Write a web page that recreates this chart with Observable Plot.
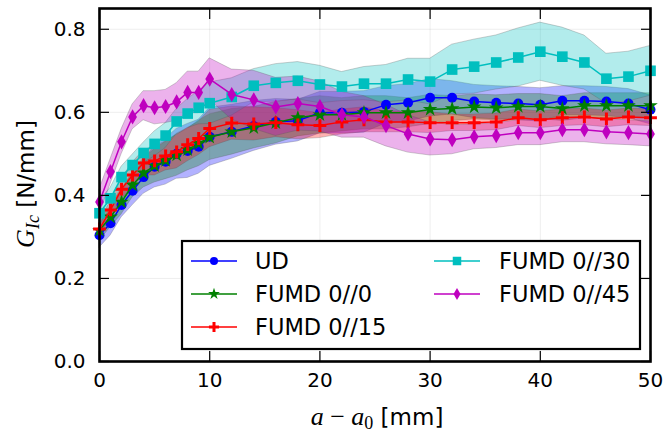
<!DOCTYPE html>
<html><head><meta charset="utf-8">
<script src="https://cdn.jsdelivr.net/npm/d3@7"></script>
<script src="https://cdn.jsdelivr.net/npm/@observablehq/plot@0.6"></script>
<style>
body{margin:0;background:#fff;}
#wrap{position:relative;width:666px;height:434px;}
</style></head>
<body><div id="wrap"></div>
<script>
const xs = [0,1,2,3,4,5,6,7,8,9,10,12,14,16,18,20,22,24,26,28,30,32,34,36,38,40,42,44,46,48,50];
const seriesNames = ["UD","FUMD 0//0","FUMD 0//15","FUMD 0//30","FUMD 0//45"];

const udMean  = [0.304,0.333,0.377,0.411,0.444,0.469,0.481,0.500,0.507,0.517,0.541,0.553,0.567,0.577,0.580,0.599,0.599,0.601,0.618,0.623,0.635,0.635,0.626,0.623,0.621,0.618,0.628,0.628,0.626,0.621,0.606];
const udSpread = [0.03,0.03,0.03,0.035,0.04,0.05,0.055,0.06,0.065,0.065,0.07,0.065,0.06,0.055,0.05,0.05,0.05,0.05,0.045,0.045,0.045,0.04,0.04,0.04,0.04,0.04,0.035,0.035,0.035,0.035,0.035];

const f0Mean  = [0.316,0.348,0.384,0.425,0.454,0.471,0.484,0.497,0.510,0.525,0.540,0.553,0.563,0.575,0.587,0.594,0.594,0.599,0.599,0.599,0.607,0.609,0.613,0.611,0.614,0.614,0.609,0.616,0.616,0.616,0.616];
const f0Spread = [0.025,0.025,0.03,0.03,0.035,0.04,0.045,0.05,0.05,0.055,0.055,0.055,0.05,0.05,0.045,0.045,0.04,0.04,0.04,0.035,0.035,0.03,0.03,0.03,0.03,0.03,0.03,0.03,0.03,0.03,0.03];

const f15Mean = [0.319,0.365,0.415,0.449,0.478,0.483,0.495,0.505,0.522,0.537,0.561,0.574,0.572,0.575,0.570,0.568,0.577,0.582,0.577,0.577,0.575,0.575,0.575,0.577,0.587,0.582,0.587,0.589,0.584,0.589,0.587];
const f15Spread = [0.02,0.02,0.025,0.03,0.03,0.035,0.035,0.04,0.04,0.04,0.045,0.04,0.04,0.035,0.035,0.03,0.03,0.03,0.025,0.025,0.025,0.02,0.02,0.02,0.02,0.02,0.02,0.02,0.02,0.02,0.02];

const f30Mean = [0.357,0.393,0.444,0.473,0.502,0.524,0.544,0.578,0.597,0.611,0.622,0.637,0.664,0.671,0.676,0.667,0.662,0.669,0.669,0.679,0.674,0.703,0.710,0.720,0.732,0.746,0.734,0.720,0.681,0.686,0.700];
const f30Spread = [0.03,0.025,0.025,0.025,0.025,0.03,0.03,0.03,0.035,0.04,0.05,0.045,0.04,0.045,0.045,0.045,0.035,0.04,0.045,0.05,0.055,0.06,0.065,0.065,0.07,0.07,0.07,0.065,0.06,0.06,0.06];

const f45Mean = [0.384,0.457,0.529,0.589,0.616,0.611,0.614,0.625,0.648,0.648,0.680,0.643,0.630,0.613,0.621,0.614,0.594,0.589,0.568,0.548,0.536,0.534,0.541,0.544,0.551,0.551,0.558,0.558,0.553,0.551,0.548];
const f45Spread = [0.03,0.03,0.03,0.03,0.035,0.04,0.04,0.045,0.05,0.05,0.05,0.06,0.07,0.07,0.065,0.06,0.055,0.05,0.05,0.045,0.04,0.035,0.03,0.03,0.03,0.03,0.03,0.03,0.03,0.03,0.03];

const xTicks = [0,10,20,30,40,50];
const yTicks = [0.0,0.2,0.4,0.6,0.8];

const means = [udMean,f0Mean,f15Mean,f30Mean,f45Mean];
const spreads = [udSpread,f0Spread,f15Spread,f30Spread,f45Spread];
const colors = ["#0000ff","#008000","#ff0000","#00bfbf","#bf00bf"];
const symbols = ["circle","star","plus","square","diamond"];
const d3symbols = [d3.symbolCircle,d3.symbolStar,d3.symbolPlus,d3.symbolSquare,d3.symbolDiamond];
const radii = [5,4.6,4.2,6,4.6];

const rows = seriesNames.map((name,i)=>xs.map((x,j)=>({series:name,x,y:means[i][j],lo:means[i][j]-spreads[i][j],hi:means[i][j]+spreads[i][j]})));

const marks = [
  Plot.gridX(xTicks.slice(1,-1),{stroke:"#000",strokeOpacity:0.07,strokeWidth:1}),
  Plot.gridY(yTicks.slice(1),{stroke:"#000",strokeOpacity:0.07,strokeWidth:1}),
];
rows.forEach((r,i)=>marks.push(Plot.areaY(r,{x:"x",y1:"lo",y2:"hi",fill:colors[i],fillOpacity:0.3,stroke:"#555",strokeOpacity:0.35,strokeWidth:0.8})));
rows.forEach((r,i)=>{
  marks.push(Plot.line(r,{x:"x",y:"y",stroke:colors[i],strokeWidth:1.5}));
  const stroked = symbols[i]==="plus";
  marks.push(Plot.dot(r,{x:"x",y:"y",symbol:()=>symbols[i],r:radii[i],
    fill: stroked?"none":colors[i], stroke: stroked?colors[i]:"none", strokeWidth: stroked?3:0}));
});
const noText = () => "";
marks.push(
  Plot.axisX(xTicks,{anchor:"bottom",tickSize:-10,tickPadding:21,strokeWidth:1.2,label:null}),
  Plot.axisX(xTicks,{anchor:"top",tickSize:-10,tickFormat:noText,strokeWidth:1.2,label:null}),
  Plot.axisY(yTicks,{anchor:"left",tickSize:-10,tickPadding:24,tickFormat:d3.format(".1f"),strokeWidth:1.2,label:null}),
  Plot.axisY(yTicks,{anchor:"right",tickSize:-10,tickFormat:noText,strokeWidth:1.2,label:null}),
  Plot.frame({stroke:"#000",strokeWidth:2.6})
);

const chart = Plot.plot({
  width:666,height:434,
  marginLeft:99,marginRight:16,marginTop:8,marginBottom:73,
  x:{domain:[0,50]},
  y:{domain:[0,0.85]},
  symbol:{type:"identity"},
  style:{fontFamily:"DejaVu Sans",fontSize:"20px",color:"#000",background:"#fff",overflow:"visible"},
  marks
});
document.getElementById("wrap").appendChild(chart);

const svg = d3.select(chart);
svg.selectAll("text").filter(function(){return this.textContent==="";}).remove();
const serif = "Liberation Serif, DejaVu Serif, serif";
// x label
const xl = svg.append("text").attr("x",377).attr("y",425).attr("text-anchor","middle").attr("fill","#000");
xl.append("tspan").attr("font-family",serif).attr("font-style","italic").attr("font-size",26).text("a");
xl.append("tspan").attr("font-family",serif).attr("font-size",26).text(" \u2212 ");
xl.append("tspan").attr("font-family",serif).attr("font-style","italic").attr("font-size",26).text("a");
xl.append("tspan").attr("font-family",serif).attr("font-size",18).attr("dy",4).text("0");
xl.append("tspan").attr("font-family","DejaVu Sans").attr("font-size",23).attr("dy",-4).text(" [mm]");
// y label
const yl = svg.append("text").attr("transform","translate(34,184) rotate(-90)").attr("text-anchor","middle").attr("fill","#000");
yl.append("tspan").attr("font-family",serif).attr("font-style","italic").attr("font-size",26).text("G");
yl.append("tspan").attr("font-family",serif).attr("font-style","italic").attr("font-size",18).attr("dy",5).text("Ic");
yl.append("tspan").attr("font-family","DejaVu Sans").attr("font-size",23).attr("dy",-5).text(" [N/mm]");

// legend
const lg = svg.append("g");
lg.append("rect").attr("x",182).attr("y",241).attr("width",458).attr("height",108).attr("fill","#fff").attr("stroke","#000").attr("stroke-width",2.2);
seriesNames.forEach((name,i)=>{
  const col = i<3?0:1, row = i<3?i:i-3;
  const x0 = [191,434][col], tx=[255,499][col], cy = 261+row*33;
  lg.append("line").attr("x1",x0).attr("x2",x0+46).attr("y1",cy).attr("y2",cy).attr("stroke",colors[i]).attr("stroke-width",1.5);
  const r = radii[i]*0.8;
  const p = d3.symbol(d3symbols[i], Math.PI*r*r)();
  const stroked = symbols[i]==="plus";
  lg.append("path").attr("d",p).attr("transform",`translate(${x0+23},${cy})`)
    .attr("fill",stroked?"none":colors[i]).attr("stroke",stroked?colors[i]:"none").attr("stroke-width",stroked?3:0);
  lg.append("text").attr("x",tx).attr("y",cy).attr("dy","0.36em").attr("text-anchor","start").attr("font-family","DejaVu Sans").attr("font-size",22.5).attr("fill","#000").text(name);
});
</script>
</body></html>
